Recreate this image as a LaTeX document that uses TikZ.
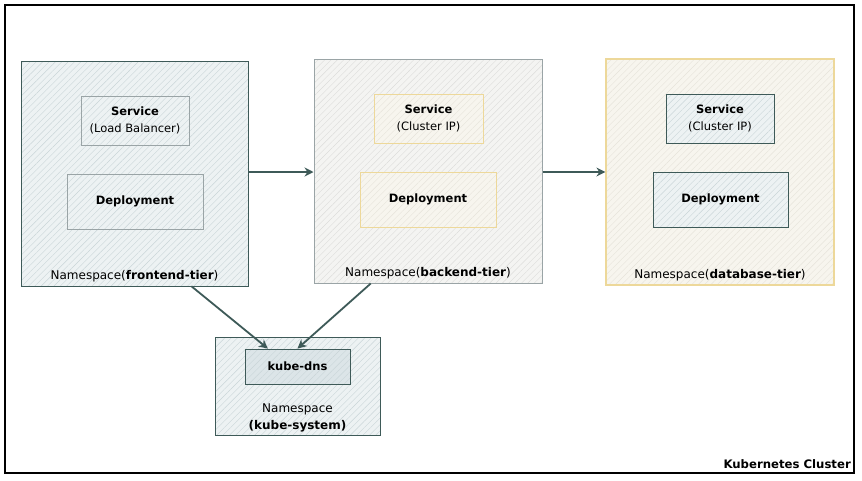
\documentclass[tikz,border=0pt]{standalone}
\usepackage{fontspec}
\setmainfont{DejaVu Sans}
\usetikzlibrary{positioning,calc,arrows.meta,patterns.meta}
\definecolor{slate}{HTML}{3E5A58}
\definecolor{slatebg}{HTML}{EDF2F3}
\definecolor{slatehatch}{HTML}{C9D5D8}
\definecolor{dnsbg}{HTML}{DCE5E8}
\definecolor{greyline}{HTML}{9AA4A6}
\definecolor{greybg}{HTML}{F4F4F2}
\definecolor{greyhatch}{HTML}{DCDCDA}
\definecolor{sand}{HTML}{EDD89A}
\definecolor{sandbg}{HTML}{F7F5EE}
\definecolor{sandhatch}{HTML}{E6E3DA}
\tikzset{
  hatch/.style={pattern={Lines[angle=45,distance=4.5pt,line width=0.4pt]}, pattern color=#1},
  nsbox/.style={draw, rectangle, inner sep=0pt, align=center, font=\fontsize{11.5}{16.5}\selectfont},
  slatens/.style={nsbox, draw=slate, line width=1pt, preaction={fill=slatebg}, hatch=slatehatch},
  greyns/.style={nsbox, draw=greyline, line width=1pt, preaction={fill=greybg}, hatch=greyhatch},
  sandns/.style={nsbox, draw=sand, line width=1.2pt, preaction={fill=sandbg}, hatch=sandhatch},
  greyitem/.style={nsbox, draw=greyline, line width=0.8pt, preaction={fill=slatebg}, hatch=slatehatch},
  sanditem/.style={nsbox, draw=sand, line width=0.8pt, preaction={fill=sandbg}, hatch=sandhatch},
  slateitem/.style={nsbox, draw=slate, line width=0.8pt, preaction={fill=slatebg}, hatch=slatehatch},
  nslabel/.style={inner sep=0pt, align=center, font=\fontsize{12}{17}\selectfont},
  link/.style={draw=slate, line width=1.8pt, -{Stealth[length=9pt,width=9pt]}}
}
\begin{document}
\begin{tikzpicture}[x=1pt,y=-1pt]
    \useasboundingbox (0,0) rectangle (862,480);
    \draw[line width=1.3pt] (5,5) rectangle (854,473);
    \node[anchor=south east, inner sep=0pt, font=\fontsize{11.7}{14}\selectfont\bfseries] (cluster) at (851,469) {Kubernetes Cluster};

    \node[slatens, minimum width=227pt, minimum height=225pt] (frontend) at (134.5,173.5) {};
    \node[greyitem, minimum width=108pt, minimum height=49pt] (fesvc) at (135,120.5) {\textbf{Service}\\(Load Balancer)};
    \node[greyitem, minimum width=136pt, minimum height=55pt] (fedep) at (135,201.5) {\textbf{Deployment}};
    \node[nslabel, above=4pt of frontend.south] (felabel) {Namespace(\textbf{frontend-tier})};

    \node[greyns, minimum width=228pt, minimum height=224pt] (backend) at (428,171) {};
    \node[sanditem, minimum width=109pt, minimum height=49pt] (besvc) at (428.5,118.5) {\textbf{Service}\\(Cluster IP)};
    \node[sanditem, minimum width=136pt, minimum height=55pt] (bedep) at (428,199.5) {\textbf{Deployment}};
    \node[nslabel, above=4pt of backend.south] (belabel) {Namespace(\textbf{backend-tier})};

    \node[sandns, minimum width=228pt, minimum height=226pt] (database) at (720,172) {};
    \node[slateitem, minimum width=108pt, minimum height=49pt] (dbsvc) at (720,118.5) {\textbf{Service}\\(Cluster IP)};
    \node[slateitem, minimum width=135pt, minimum height=55pt] (dbdep) at (720.5,199.5) {\textbf{Deployment}};
    \node[nslabel, above=4pt of database.south] (dblabel) {Namespace(\textbf{database-tier})};

    \node[slatens, minimum width=165pt, minimum height=98pt] (kubesys) at (297.5,386) {};
    \node[slateitem, preaction={fill=dnsbg}, minimum width=105pt, minimum height=35pt] (kubedns) at (297.5,366.5) {\textbf{kube-dns}};
    \node[nslabel, above=3pt of kubesys.south] (kslabel) {Namespace\\\textbf{(kube-system)}};

    \draw[link] (frontend.east |- 0,172) -- (backend.west |- 0,172);
    \draw[link] (backend.east |- 0,172) -- (database.west |- 0,172);
    \draw[link] ($(frontend.south west)!0.75!(frontend.south east)$) -- ($(kubedns.north west)!0.22!(kubedns.north east)$);
    \draw[link] ($(backend.south west)!0.25!(backend.south east)$) -- (kubedns.north);
\end{tikzpicture}
\end{document}
